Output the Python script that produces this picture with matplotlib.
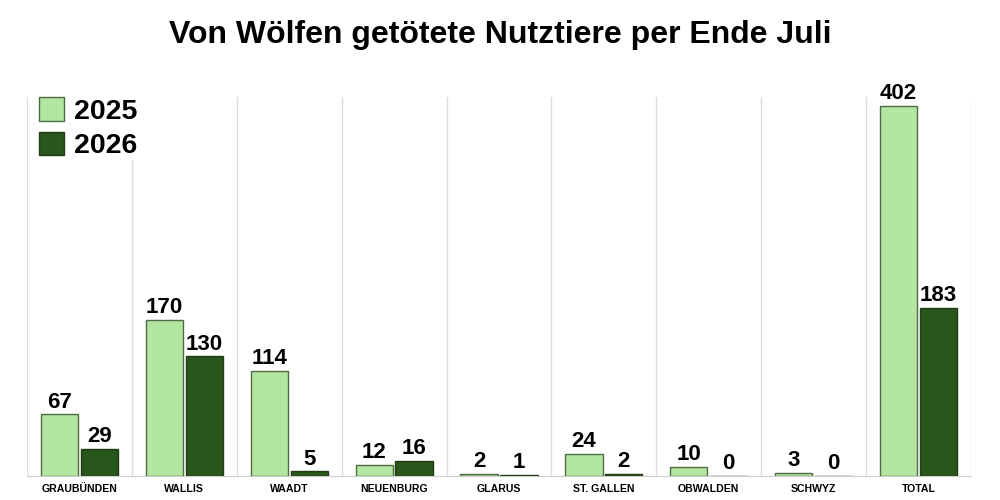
import matplotlib
matplotlib.use("Agg")
import matplotlib.pyplot as plt
import numpy as np

plt.rcParams['font.family'] = ['Liberation Sans', 'DejaVu Sans']

kantone = ["GRAUBÜNDEN", "WALLIS", "WAADT", "NEUENBURG", "GLARUS",
           "ST. GALLEN", "OBWALDEN", "SCHWYZ", "TOTAL"]
werte_2025 = [67, 170, 114, 12, 2, 24, 10, 3, 402]
werte_2026 = [29, 130, 5, 16, 1, 2, 0, 0, 183]

hell = "#b3e6a1"
dunkel = "#29561a"

fig = plt.figure(figsize=(10, 5), dpi=100)
ax = fig.add_axes([0.027, 0.048, 0.944, 0.758])

x = np.arange(len(kantone))
w = 0.355
off = 0.19

b1 = ax.bar(x - off, werte_2025, w, color=hell, edgecolor="#4d6b45", linewidth=1, label="2025", zorder=3)
b2 = ax.bar(x + off, werte_2026, w, color=dunkel, edgecolor="#223b18", linewidth=1, label="2026", zorder=3)

for bars in (b1, b2):
    for b in bars:
        h = b.get_height()
        ax.text(b.get_x() + b.get_width() / 2, h + 2, str(int(h)),
                ha="center", va="bottom", fontsize=16, fontweight="bold")

ax.set_xlim(-0.5, len(kantone) - 0.5)
ax.set_ylim(0, 412)
ax.set_xticks(x)
ax.set_xticklabels(kantone, fontsize=7.6, fontweight="bold")
ax.tick_params(axis="x", length=0, pad=6)
ax.set_yticks([])

for g in np.arange(-0.5, len(kantone), 1):
    ax.axvline(g, color="#dddddd", linewidth=1, zorder=0)

for s in ["top", "right", "left"]:
    ax.spines[s].set_visible(False)
ax.spines["bottom"].set_color("#cccccc")

leg = ax.legend(loc="upper left", bbox_to_anchor=(0.013, 1.0),
                prop={"weight": "bold", "size": 20.5}, frameon=True,
                edgecolor="white", framealpha=1, handlelength=0.88,
                handleheight=0.9, labelspacing=0.25, borderpad=0.0,
                borderaxespad=0.0, handletextpad=0.35, fancybox=False)
leg.set_zorder(5)

fig.suptitle("Von Wölfen getötete Nutztiere per Ende Juli", y=0.96,
             fontsize=23, fontweight="bold")

fig.savefig("out.png", dpi=100, facecolor="white")
